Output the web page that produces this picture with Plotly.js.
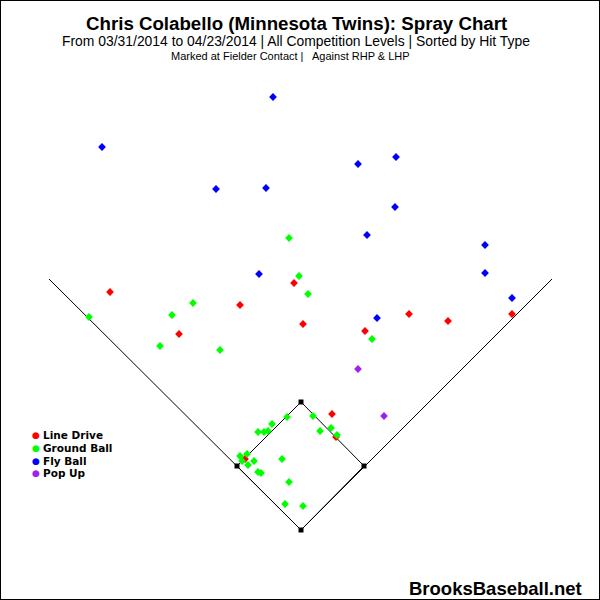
<!DOCTYPE html>
<html>
<head>
<meta charset="utf-8">
<script src="https://cdn.plot.ly/plotly-3.0.1.min.js"></script>
<style>html,body{margin:0;padding:0;background:#fff}#chart{width:600px;height:600px}</style>
</head>
<body>
<div id="chart"></div>
<script>
// Hit locations (field coordinates, marked at fielder contact)
const lineDriveX = [110, 179, 240, 294, 303, 365, 409, 448, 512, 332, 336, 245];
const lineDriveY = [292, 334, 305, 283, 324, 331, 314, 321, 314, 414, 437, 459];
const groundBallX = [289, 299, 308, 89, 193, 172, 160, 220, 372, 313, 287, 272, 258, 264, 268, 320, 331, 337, 247, 240, 242, 254, 248, 282, 258, 261, 289, 285, 303];
const groundBallY = [238, 276, 294, 317, 303, 315, 346, 350, 339, 416, 417, 424, 432, 432, 431, 431, 428, 435, 454, 456, 461, 461, 465, 459, 472, 473, 482, 504, 506];
const flyBallX = [273, 102, 216, 266, 259, 396, 358, 395, 367, 485, 485, 512, 377];
const flyBallY = [97, 147, 189, 188, 274, 157, 164, 207, 235, 245, 273, 298, 318];
const popUpX = [358, 384];
const popUpY = [369, 416];

const hitTypes = ["Line Drive", "Ground Ball", "Fly Ball", "Pop Up"];
const hitColors = ["#ff0000", "#00ff00", "#0000ff", "#a020f0"];

// Field geometry
const baseNames = ["Home", "First", "Second", "Third"];
const baseX = [301, 364, 301, 237];
const baseY = [530, 466, 402, 466];
const foulLineX = [49, 301, 552];
const foulLineY = [279, 530, 279];
const diamondX = [301, 364, 301, 237, 301];
const diamondY = [530, 466, 402, 466, 530];

const titleText = "Chris Colabello (Minnesota Twins): Spray Chart";
const subtitleText = "From 03/31/2014 to 04/23/2014 | All Competition Levels | Sorted by Hit Type";
const noteText = "Marked at Fielder Contact |   Against RHP &amp; LHP";
const watermark = "BrooksBaseball.net";

const sans = "'Liberation Sans', Arial, sans-serif";

const hitSeries = [[lineDriveX, lineDriveY], [groundBallX, groundBallY], [flyBallX, flyBallY], [popUpX, popUpY]];

const traces = [
  {x: foulLineX, y: foulLineY, mode: 'lines', line: {color: '#000', width: 1}, hoverinfo: 'skip', showlegend: false},
  {x: diamondX, y: diamondY, mode: 'lines', line: {color: '#000', width: 1}, hoverinfo: 'skip', showlegend: false},
  {x: baseX, y: baseY, text: baseNames, mode: 'markers', marker: {symbol: 'square', size: 5, color: '#000'}, showlegend: false}
];
hitSeries.forEach((s, i) => {
  traces.push({x: s[0], y: s[1], name: hitTypes[i], mode: 'markers',
    marker: {symbol: 'diamond', size: 6, color: hitColors[i], line: {width: 0}}, showlegend: false});
});

const annotations = [
  {text: '<b>' + titleText + '</b>', x: 296, y: 23.5, font: {family: sans, size: 18.7, color: '#000'}},
  {text: subtitleText, x: 296, y: 41, font: {family: sans, size: 13.9, color: '#000'}},
  {text: noteText, x: 290, y: 55.5, font: {family: sans, size: 11, color: '#000'}},
  {text: '<b>' + watermark + '</b>', x: 584, y: 588, xanchor: 'right', font: {family: sans, size: 18.5, color: '#000'}}
];
const legendY = [435, 448, 460.5, 473];
hitTypes.forEach((t, i) => {
  annotations.push({text: '●', x: 36, y: legendY[i], font: {family: "'DejaVu Sans', sans-serif", size: 9, color: hitColors[i]}});
  annotations.push({text: '<b>' + t + '</b>', x: 41, y: legendY[i], xanchor: 'left', font: {family: "'DejaVu Sans', sans-serif", size: 10.5, color: '#000'}});
});
annotations.forEach(a => { a.xref = 'x'; a.yref = 'y'; a.showarrow = false; if (!a.xanchor) a.xanchor = 'center'; a.yanchor = 'middle'; });

const layout = {
  width: 600, height: 600,
  margin: {l: 0, r: 0, t: 0, b: 0, pad: 0},
  paper_bgcolor: '#ffffff', plot_bgcolor: '#ffffff',
  xaxis: {range: [0, 600], visible: false, fixedrange: true},
  yaxis: {range: [600, 0], visible: false, fixedrange: true},
  showlegend: false,
  annotations: annotations,
  shapes: [{type: 'rect', xref: 'paper', yref: 'paper', x0: 0, x1: 1, y0: 0, y1: 1, line: {color: '#000', width: 2}}]
};

Plotly.newPlot('chart', traces, layout, {staticPlot: true, displayModeBar: false});
</script>
</body>
</html>
